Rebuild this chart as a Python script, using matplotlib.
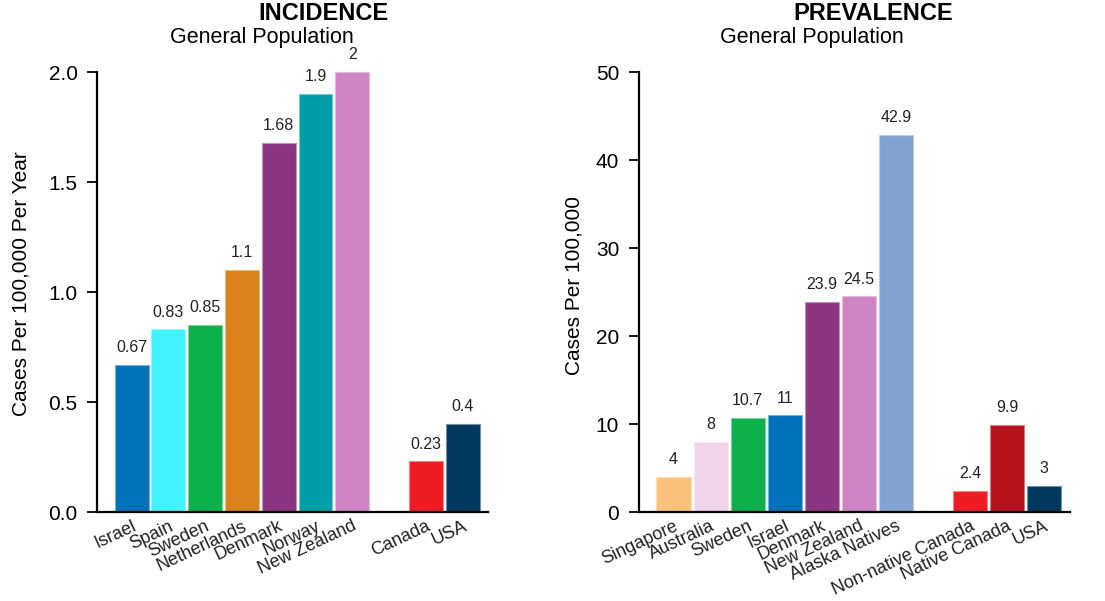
import numpy as np
import matplotlib.pyplot as plt
from matplotlib.colors import to_rgb

plt.rcParams['font.family'] = ['Liberation Sans', 'DejaVu Sans']

# incidence, general population
inc_names = ['Israel', 'Spain', 'Sweden', 'Netherlands', 'Denmark', 'Norway',
             'New Zealand', 'Canada', 'USA']
inc_vals = [0.67, 0.83, 0.85, 1.1, 1.68, 1.9, 2, 0.23, 0.4]
inc_labels = ['0.67', '0.83', '0.85', '1.1', '1.68', '1.9', '2', '0.23', '0.4']
inc_pos = [0, 1, 2, 3, 4, 5, 6, 8, 9]
inc_colors = ['#0071BB', '#41F2FF', '#0DB04B', '#D9821B', '#8B3580', '#009FA8',
              '#CE84C4', '#ED1C24', '#00375D']

# prevalence, general population
prev_names = ['Singapore', 'Australia', 'Sweden', 'Israel', 'Denmark', 'New Zealand',
              'Alaska Natives', 'Non-native Canada', 'Native Canada', 'USA']
prev_vals = [4, 8, 10.7, 11, 23.9, 24.5, 42.9, 2.4, 9.9, 3]
prev_labels = ['4', '8', '10.7', '11', '23.9', '24.5', '42.9', '2.4', '9.9', '3']
prev_pos = [0, 1, 2, 3, 4, 5, 6, 8, 9, 10]
prev_colors = ['#F9C17B', '#F0D5EA', '#0DB04B', '#0071BB', '#8B3580', '#CE84C4',
               '#82A3CF', '#ED1C24', '#B5121B', '#00375D']


def lighter(c, f=0.45):
    r, g, b = to_rgb(c)
    return (r + (1 - r) * f, g + (1 - g) * f, b + (1 - b) * f)


def draw(ax, pos, vals, labels, names, colors, ymax, yticks, yfmt, off):
    ax.bar(pos, vals, width=0.92, color=colors,
           edgecolor=[lighter(c) for c in colors], linewidth=0.8)
    for x, v, t in zip(pos, vals, labels):
        ax.text(x, v + off, t, ha='center', va='bottom', fontsize=11.5, color='#222222')
    ax.set_xlim(-0.94, pos[-1] + 0.69)
    ax.set_ylim(0, ymax)
    ax.set_yticks(yticks)
    ax.set_yticklabels([yfmt.format(t) for t in yticks], fontsize=15)
    ax.set_xticks(pos)
    ax.set_xticklabels(names, rotation=25, ha='right', rotation_mode='anchor',
                       fontsize=13, color='#222222')
    ax.tick_params(axis='x', length=0, pad=4)
    ax.tick_params(axis='y', length=7, width=1.3, pad=7)
    for s in ['top', 'right']:
        ax.spines[s].set_visible(False)
    ax.spines['left'].set_linewidth(1.6)
    ax.spines['bottom'].set_linewidth(1.6)


fig = plt.figure(figsize=(11.05, 6.01), dpi=100)
ax1 = fig.add_axes([0.0878, 0.148, 0.3538, 0.732])
ax2 = fig.add_axes([0.578, 0.148, 0.390, 0.732])

draw(ax1, inc_pos, inc_vals, inc_labels, inc_names, inc_colors,
     2.0, [0.0, 0.5, 1.0, 1.5, 2.0], '{:.1f}', 0.045)
draw(ax2, prev_pos, prev_vals, prev_labels, prev_names, prev_colors,
     50, [0, 10, 20, 30, 40, 50], '{:d}', 1.1)

ax1.set_ylabel('Cases Per 100,000 Per Year', fontsize=15)
ax1.yaxis.set_label_coords(-0.17, 0.52)
ax2.set_ylabel('Cases Per 100,000', fontsize=15)
ax2.yaxis.set_label_coords(-0.128, 0.515)

fig.text(323 / 1105, 1 - 14 / 601, 'INCIDENCE', ha='center', va='center',
         fontsize=17, fontweight='bold')
fig.text(262 / 1105, 1 - 37 / 601, 'General Population', ha='center', va='center',
         fontsize=15.5)
fig.text(873 / 1105, 1 - 14 / 601, 'PREVALENCE', ha='center', va='center',
         fontsize=17, fontweight='bold')
fig.text(812 / 1105, 1 - 37 / 601, 'General Population', ha='center', va='center',
         fontsize=15.5)

fig.savefig('out.png', dpi=100)
